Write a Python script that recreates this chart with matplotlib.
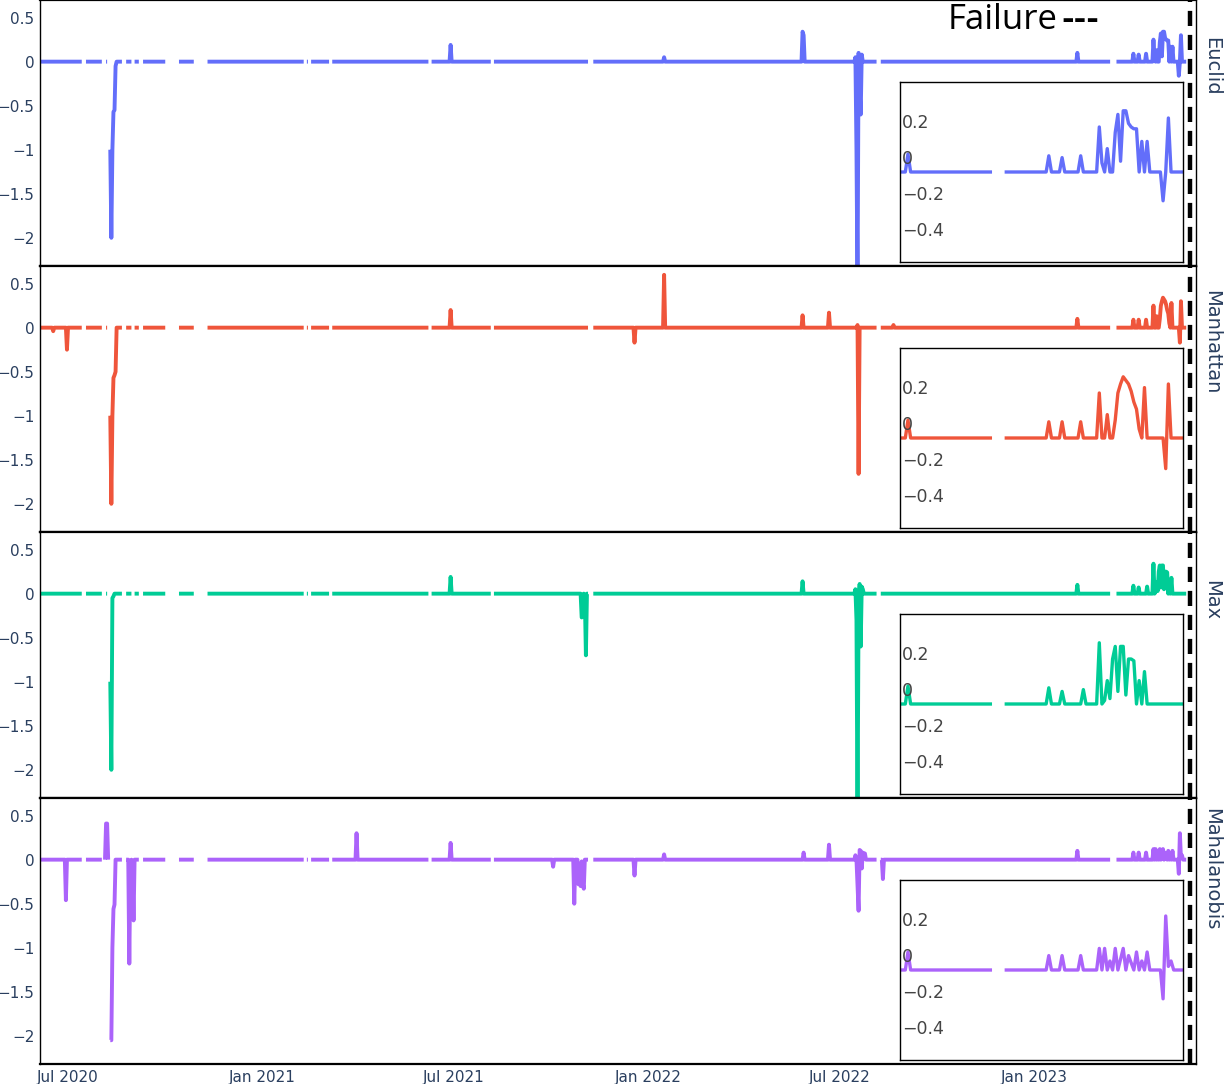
import numpy as np
import pandas as pd
import matplotlib
matplotlib.use("Agg")
import matplotlib.pyplot as plt
import matplotlib.dates as mdates
from matplotlib.ticker import FuncFormatter
from matplotlib.transforms import blended_transform_factory, ScaledTranslation

# ---- data -------------------------------------------------------------
start_day, end_day = "2020-06-05", "2023-05-25"
inset_start = "2023-02-08"
failure_day = "2023-05-28 12:00"

names = ["Euclid", "Manhattan", "Max", "Mahalanobis"]
colors = ["#636efa", "#EF553B", "#00cc96", "#ab63fa"]

# days without data (inclusive ranges)
gaps = [("2020-07-15", "2020-07-17"), ("2020-08-03", "2020-08-05"),
        ("2020-08-08", "2020-08-09"), ("2020-08-22", "2020-08-24"),
        ("2020-08-31", "2020-09-01"), ("2020-09-07", "2020-09-09"),
        ("2020-10-02", "2020-10-13"), ("2020-10-29", "2020-11-09"),
        ("2021-02-10", "2021-02-11"), ("2021-02-14", "2021-02-15"),
        ("2021-03-06", "2021-03-07"), ("2021-06-08", "2021-06-09"),
        ("2021-08-06", "2021-08-07"), ("2021-11-06", "2021-11-09"),
        ("2022-08-06", "2022-08-08"), ("2023-03-15", "2023-03-19")]

# non-zero days of each series
euclid_dates = ["2020-08-10", "2020-08-11", "2020-08-12", "2020-08-13", "2020-08-14", "2020-08-15",
                "2021-06-28", "2022-01-16", "2022-05-27", "2022-05-28",
                "2022-07-16", "2022-07-17", "2022-07-18", "2022-07-19", "2022-07-20", "2022-07-21", "2022-07-22",
                "2023-02-11", "2023-04-05", "2023-04-10", "2023-04-17",
                "2023-04-24", "2023-04-25", "2023-04-27", "2023-04-30", "2023-05-01", "2023-05-02",
                "2023-05-03", "2023-05-04", "2023-05-05", "2023-05-06", "2023-05-07", "2023-05-08",
                "2023-05-10", "2023-05-12", "2023-05-18", "2023-05-20"]
euclid_vals = [-1.0, -2.0, -1.0, -0.57, -0.55, -0.05,
               0.19, 0.05, 0.34, 0.3,
               0.05, -1.0, -2.6, 0.1, -0.3, -0.6, 0.08,
               0.1, 0.09, 0.08, 0.09,
               0.25, 0.05, 0.13, 0.22, 0.32, 0.06,
               0.34, 0.34, 0.27, 0.25, 0.24, 0.24,
               0.17, 0.17, -0.16, 0.3]

manhattan_dates = ["2020-06-17", "2020-06-30",
                   "2020-08-10", "2020-08-11", "2020-08-12", "2020-08-13", "2020-08-14", "2020-08-15",
                   "2021-06-28", "2021-12-19", "2022-01-16", "2022-05-27", "2022-06-21",
                   "2022-07-18", "2022-07-19", "2022-08-21",
                   "2023-02-11", "2023-04-05", "2023-04-10", "2023-04-17",
                   "2023-04-24", "2023-04-27", "2023-04-30", "2023-05-01", "2023-05-02", "2023-05-03",
                   "2023-05-04", "2023-05-05", "2023-05-06", "2023-05-07", "2023-05-08", "2023-05-09",
                   "2023-05-11", "2023-05-19", "2023-05-20"]
manhattan_vals = [-0.04, -0.25,
                  -1.0, -2.0, -1.0, -0.57, -0.54, -0.5,
                  0.2, -0.17, 0.6, 0.14, 0.17,
                  0.03, -1.66, 0.03,
                  0.1, 0.09, 0.09, 0.09,
                  0.25, 0.13, 0.1, 0.25, 0.3, 0.34,
                  0.32, 0.3, 0.26, 0.2, 0.16, 0.05,
                  0.28, -0.17, 0.3]

max_dates = ["2020-08-10", "2020-08-11", "2020-08-12", "2020-08-13",
             "2021-06-28", "2021-10-30", "2021-10-31", "2021-11-02", "2021-11-03",
             "2022-05-27", "2022-07-16", "2022-07-17", "2022-07-18", "2022-07-19",
             "2022-07-20", "2022-07-21", "2022-07-22", "2022-07-23",
             "2023-02-11", "2023-04-05", "2023-04-10", "2023-04-18",
             "2023-04-24", "2023-04-26", "2023-04-27", "2023-04-28", "2023-04-29", "2023-04-30",
             "2023-05-01", "2023-05-02", "2023-05-03", "2023-05-04", "2023-05-05", "2023-05-06",
             "2023-05-07", "2023-05-09", "2023-05-11"]
max_vals = [-1.0, -2.0, -0.05, -0.03,
            0.19, -0.27, -0.25, -0.05, -0.7,
            0.14, 0.05, -0.3, -2.6, -0.1,
            0.11, -0.6, 0.08, 0.05,
            0.1, 0.09, 0.07, 0.08,
            0.34, 0.02, 0.13, 0.03, 0.25, 0.32,
            0.07, 0.32, 0.32, 0.05, 0.25, 0.25,
            0.24, 0.13, 0.18]

mahal_dates = ["2020-06-29", "2020-08-05", "2020-08-06", "2020-08-07", "2020-08-08",
               "2020-08-10", "2020-08-11", "2020-08-12", "2020-08-13", "2020-08-14",
               "2020-08-28", "2020-08-29", "2020-08-31", "2020-09-01",
               "2021-03-31", "2021-06-28", "2021-10-03",
               "2021-10-23", "2021-10-27", "2021-10-28", "2021-10-29", "2021-10-30", "2021-10-31", "2021-11-01",
               "2021-12-19", "2022-01-16", "2022-05-28", "2022-06-21",
               "2022-07-16", "2022-07-18", "2022-07-19", "2022-07-20", "2022-07-21", "2022-07-22",
               "2022-07-23", "2022-07-24", "2022-07-25", "2022-08-11",
               "2023-02-11", "2023-04-05", "2023-04-10", "2023-04-17",
               "2023-04-24", "2023-04-26", "2023-04-28", "2023-04-30", "2023-05-02", "2023-05-03",
               "2023-05-05", "2023-05-06", "2023-05-08", "2023-05-10", "2023-05-12",
               "2023-05-18", "2023-05-19", "2023-05-20", "2023-05-21"]
mahal_vals = [-0.46, 0.0, 0.41, 0.41, 0.0,
              -2.05, -2.05, -1.0, -0.56, -0.51,
              -1.18, -0.05, -0.08, -0.69,
              0.3, 0.19, -0.08,
              -0.5, -0.28, -0.05, -0.3, -0.02, -0.27, -0.33,
              -0.18, 0.06, 0.08, 0.17,
              0.05, -0.3, -0.58, 0.11, 0.1, -0.1,
              0.08, 0.07, 0.07, -0.22,
              0.1, 0.08, 0.08, 0.08,
              0.12, 0.12, 0.05, 0.12, 0.06, 0.12,
              0.08, 0.04, 0.1, 0.05, 0.1,
              -0.16, 0.3, 0.02, 0.05]

events = [(euclid_dates, euclid_vals), (manhattan_dates, manhattan_vals),
          (max_dates, max_vals), (mahal_dates, mahal_vals)]

days = pd.date_range(start_day, end_day, freq="D")


def build(dates, vals):
    s = pd.Series(0.0, index=days)
    for a, b in gaps:
        s[a:b] = np.nan
    s[pd.to_datetime(dates)] = vals
    return s


series = [build(d, v) for d, v in events]

# ---- figure -----------------------------------------------------------
W, H = 1225, 1084
fig = plt.figure(figsize=(W / 100, H / 100), dpi=100)
plt.rcParams['font.family'] = ['DejaVu Sans']
txt_col = "#2a3f5f"

x0, x1 = 40, 1196
ph = 266
label_y = [66, 342, 600, 869]


def fmt(v, pos):
    return f"{v:g}".replace("-", "\u2212")


for i, s in enumerate(series):
    ax = fig.add_axes([x0 / W, 1 - (i + 1) * ph / H, (x1 - x0) / W, ph / H])
    ax.plot(s.index, s.values, color=colors[i], lw=2.8, solid_joinstyle="round",
            solid_capstyle="butt")
    ax.axvline(pd.Timestamp(failure_day), color="black", lw=3.2,
               linestyle=(0, (3.4, 2.0)))
    ax.set_xlim(pd.Timestamp("2020-06-04 12:00"), pd.Timestamp("2023-06-03 06:00"))
    ax.set_ylim(-2.32, 0.70)
    ax.set_yticks([0.5, 0, -0.5, -1, -1.5, -2])
    ax.yaxis.set_major_formatter(FuncFormatter(fmt))
    ax.tick_params(axis="both", length=0, labelsize=11, labelcolor=txt_col, pad=4)
    ax.xaxis.set_major_locator(mdates.MonthLocator(bymonth=[1, 7]))
    ax.xaxis.set_major_formatter(mdates.DateFormatter("%b %Y"))
    if i < 3:
        ax.tick_params(axis="x", labelbottom=False)
    for side in ["left", "right"]:
        ax.spines[side].set_linewidth(1.0)
    for side in ["top", "bottom"]:
        ax.spines[side].set_linewidth(1.6)

    fig.text(1212 / W, 1 - label_y[i] / H, names[i], rotation=-90, ha="center",
             va="center", fontsize=14, color=txt_col)

    # inset with the last months
    iax = fig.add_axes([900 / W, 1 - (ph * i + 262) / H, 283 / W, 180 / H])
    part = s[inset_start:]
    iax.plot(part.index, part.values, color=colors[i], lw=2.4, solid_joinstyle="round")
    iax.set_xlim(pd.Timestamp(inset_start), pd.Timestamp(end_day) + pd.Timedelta(hours=12))
    iax.set_ylim(-0.5, 0.5)
    iax.set_xticks([])
    iax.set_yticks([])
    for sp in iax.spines.values():
        sp.set_linewidth(1.0)
    tr = blended_transform_factory(iax.transAxes, iax.transData) + \
        ScaledTranslation(0, 13 / 100, fig.dpi_scale_trans)
    for v in [0.2, 0, -0.2, -0.4]:
        iax.text(0.008, v, fmt(v, None), transform=tr, ha="left", va="center",
                 fontsize=12.5, color="#444444")

fig.text(948 / W, 1 - 20 / H, "Failure", fontsize=25, family="Open Sans",
         color="black", ha="left", va="center")
fig.text(1061 / W, 1 - 21 / H, "---", fontsize=22, family="DejaVu Sans",
         fontweight="bold", color="black", ha="left", va="center")

fig.savefig("out.png", dpi=100)
